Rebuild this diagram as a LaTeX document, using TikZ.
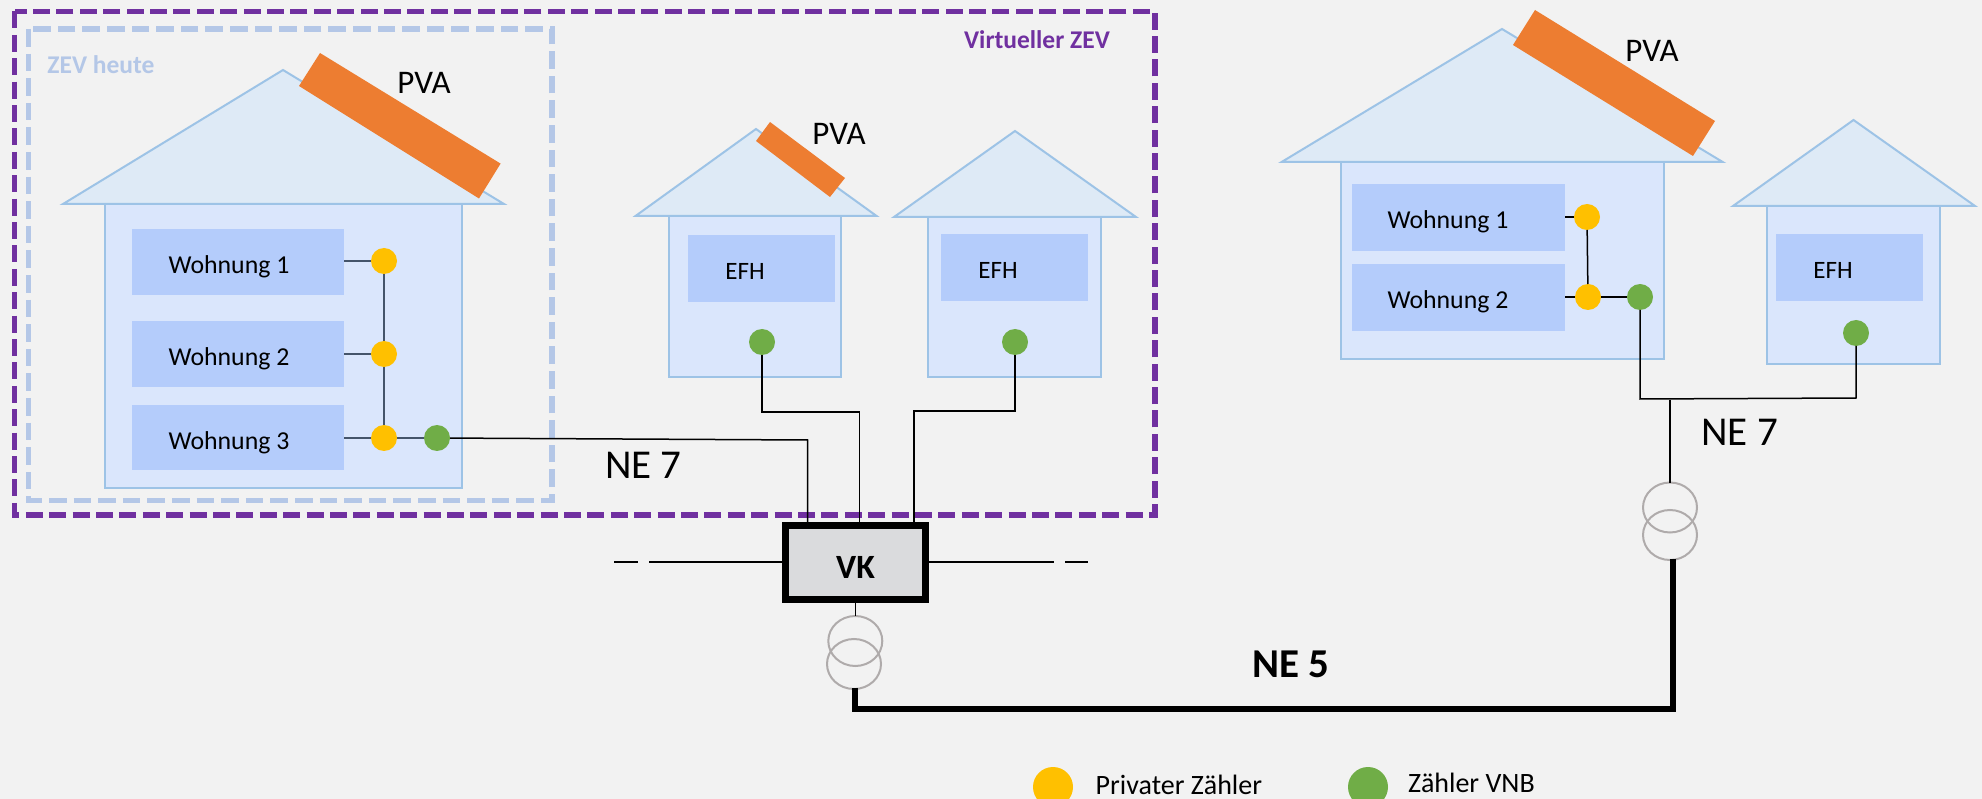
\documentclass[tikz,border=0pt]{standalone}
\usepackage{fontspec}
\setmainfont{Carlito}
\usetikzlibrary{calc,shapes.geometric}
\definecolor{bgc}{HTML}{F2F2F2}
\definecolor{roofc}{HTML}{DEEAF6}
\definecolor{edgec}{HTML}{9DC3E6}
\definecolor{bodyc}{HTML}{DAE6FC}
\definecolor{flatc}{HTML}{B4CCFB}
\definecolor{purplec}{HTML}{7030A0}
\definecolor{zevc}{HTML}{B4C7E7}
\definecolor{orangec}{HTML}{ED7D31}
\definecolor{yellowc}{HTML}{FFC000}
\definecolor{greenc}{HTML}{70AD47}
\definecolor{vkc}{HTML}{DADBDD}
\definecolor{trafoc}{HTML}{AFABAB}
\definecolor{wirec}{HTML}{44546A}
\newcommand{\fs}[1]{\fontsize{#1}{#1}\selectfont}
% \rectnode{style}{name}{x1}{y1}{x2}{y2}
\newcommand{\rectnode}[6]{\node[#1,minimum width={#5pt-#3pt},minimum height={#6pt-#4pt}] (#2) at ({(#3+#5)/2},{(#4+#6)/2}) {};}
\tikzset{
  x=1pt,y=-1pt,
  roof/.style={fill=roofc,draw=edgec,line width=2pt,line join=miter},
  body/.style={rectangle,fill=bodyc,draw=edgec,line width=2pt,inner sep=0pt,outer sep=0pt},
  flat/.style={rectangle,fill=flatc,inner sep=0pt,outer sep=0pt},
  panel/.style={fill=orangec},
  meter/.style={circle,minimum size=26pt,inner sep=0pt,outer sep=0pt},
  priv/.style={meter,fill=yellowc},
  vnb/.style={meter,fill=greenc},
  legenddot/.style={circle,minimum size=40pt,inner sep=0pt,outer sep=0pt},
  zone/.style={line width=5.5pt,line join=miter},
  wire/.style={draw=black,line width=1.5pt},
  riser/.style={draw=wirec,line width=1.5pt},
  heavy/.style={draw=black,line width=5.5pt,line join=miter},
  trafo/.style={draw=trafoc,line width=2pt,ellipse,minimum width=54pt,minimum height=50pt,inner sep=0pt,outer sep=0pt},
  txt/.style={inner sep=0pt,outer sep=0pt,text=black},
  pva/.style={txt,font=\fs{33}},
  flt/.style={txt,font=\fs{25.8}},
  efh/.style={txt,font=\fs{25}},
  ne/.style={txt,font=\fs{41}},
  leg/.style={txt,font=\fs{28}},
  zlabel/.style={inner sep=0pt,outer sep=0pt,font=\bfseries\fs{25.5}},
}
\begin{document}
\begin{tikzpicture}
\useasboundingbox (0,0) rectangle (1982,799);
\clip (0,0) rectangle (1982,799);
\fill[bgc] (0,0) rectangle (1982,799);

% zones
\draw[zone,draw=purplec,dash pattern=on 17pt off 6.4pt] (14.5,11.5) rectangle (1155,515);
\draw[zone,draw=zevc,dash pattern=on 17.6pt off 7pt] (28.7,29) rectangle (552,500.7);
\node[zlabel,text=zevc] (zevlabel) at (101,65) {ZEV heute};
\node[zlabel,text=purplec] (virtlabel) at (1037,39.5) {Virtueller ZEV};

% house 1
\draw[roof] (283,70) -- (504,204) -- (63,204) -- cycle;
\rectnode{body}{h1}{105}{204}{461.5}{488}
\fill[panel] (320,53) -- (500.6,163.6) -- (479,198.5) -- (299,86) -- cycle;
\node[pva] (pva1) at (424,83) {PVA};
\rectnode{flat}{w1}{132}{229}{344}{295}
\rectnode{flat}{w2}{132}{321}{344}{387}
\rectnode{flat}{w3}{132}{405}{344}{470}
\node[flt] (w1t) at (229,266.5) {Wohnung 1};
\node[flt] (w2t) at (229,358.5) {Wohnung 2};
\node[flt] (w3t) at (229,442.5) {Wohnung 3};
\node[priv] (p1) at (384,261) {};
\node[priv] (p2) at (384,354) {};
\node[priv] (p3) at (384,438) {};
\node[vnb] (g1) at (437,438) {};

% house 2
\draw[roof] (756,129) -- (876.6,216) -- (635.5,216) -- cycle;
\rectnode{body}{h2}{669}{216}{841}{377}
\fill[panel] (770,122) -- (845,178) -- (830,197) -- (756,141) -- cycle;
\node[pva] (pva2) at (839,134) {PVA};
\rectnode{flat}{e2}{688}{235}{835}{302}
\node[efh] (e2t) at (745,271) {EFH};
\node[vnb] (g2) at (762,342) {};

% house 3
\draw[roof] (1015,131) -- (1136,217) -- (894,217) -- cycle;
\rectnode{body}{h3}{928}{217}{1101}{377}
\rectnode{flat}{e3}{941}{234}{1088}{301}
\node[efh] (e3t) at (998,270) {EFH};
\node[vnb] (g3) at (1015,342) {};

% house 4
\draw[roof] (1502,29) -- (1722.7,162) -- (1281.6,162) -- cycle;
\rectnode{body}{h4}{1340.6}{162}{1664}{359}
\fill[panel] (1535,10) -- (1715,121) -- (1693,156) -- (1513,45) -- cycle;
\node[pva] (pva4) at (1652,51) {PVA};
\rectnode{flat}{w4}{1352}{184}{1565}{251}
\rectnode{flat}{w5}{1352}{264}{1565}{331}
\node[flt] (w4t) at (1448,221.5) {Wohnung 1};
\node[flt] (w5t) at (1448,301.5) {Wohnung 2};
\node[priv] (p4) at (1587,217) {};
\node[priv] (p5) at (1588,297) {};
\node[vnb] (g4) at (1640,297) {};

% house 5
\draw[roof] (1853.5,120) -- (1975,206) -- (1733,206) -- cycle;
\rectnode{body}{h5}{1767}{206}{1939.6}{364}
\rectnode{flat}{e5}{1776}{234}{1923}{301}
\node[efh] (e5t) at (1833,270) {EFH};
\node[vnb] (g5) at (1856,333) {};

% VK
\node[rectangle,fill=vkc,draw=black,line width=7pt,minimum width=140.5pt,minimum height=74pt,inner sep=0pt,outer sep=3.5pt] (vk) at (855.5,562.3) {};
\node[txt,font=\bfseries\fs{34}] (vkt) at (855.5,567) {VK};

% transformers
\node[trafo] (t1a) at (855.3,641) {};
\node[trafo] (t1b) at (854,664) {};
\node[trafo] (t2a) at (1670,507.5) {};
\node[trafo] (t2b) at (1670,535) {};

% coordinates
\coordinate (a1) at (807.7,440);
\coordinate (j2a) at (762,412);
\coordinate (j2b) at (859.4,412);
\coordinate (j3a) at (1015,411);
\coordinate (j3b) at (914,411);
\coordinate (vk1) at (807.7,522);
\coordinate (vk2) at (859.4,522);
\coordinate (vk3) at (914,522);
\coordinate (bl) at (855,709);
\coordinate (br) at (1673,709);
\coordinate (tr) at (1673,559);
\coordinate (bs) at (855,688);
\coordinate (ja) at (1640,399);
\coordinate (jb) at (1856,398);
\coordinate (jc) at (1670,400);
\coordinate (dl1) at (614.4,562);
\coordinate (dl2) at (638,562);
\coordinate (dl3) at (649,562);
\coordinate (dr1) at (1054,562);
\coordinate (dr2) at (1065,562);
\coordinate (dr3) at (1088,562);

% connectors house 1
\draw[riser] (w1.east |- p1) -- (p1);
\draw[riser] (w2.east |- p2) -- (p2);
\draw[riser] (w3.east |- p3) -- (p3);
\draw[riser] (p1) -- (p2);
\draw[riser] (p2) -- (p3);
\draw[riser] (p3) -- (g1);
\draw[wire] (g1) -- (a1) -- (vk1);
% connectors houses 2,3
\draw[wire] (g2) -- (j2a) -- (j2b) -- (vk2);
\draw[wire] (g3) -- (j3a) -- (j3b) -- (vk3);
% house 4,5
\draw[wire] (w4.east |- p4) -- (p4);
\draw[wire] (w5.east |- p5) -- (p5);
\draw[wire] (p4) -- (p5);
\draw[wire] (p5) -- (g4);
\draw[wire] (g4) -- (ja) -- (jb) -- (g5);
\draw[wire] (jc) -- (t2a);
% bus
\draw[wire] (dl1) -- (dl2);
\draw[wire] (dl3) -- (vk.west |- dl3);
\draw[wire] (vk.east |- dr1) -- (dr1);
\draw[wire] (dr2) -- (dr3);
\draw[wire] (vk.south -| t1a) -- (t1a);
% MV line
\draw[heavy] (bs) -- (bl) -- (br) -- (tr);

% labels
\node[ne] (ne7a) at (643.5,465) {NE 7};
\node[ne] (ne7b) at (1739.5,432) {NE 7};
\node[txt,font=\bfseries\fs{41}] (ne5) at (1291,664) {NE 5};

% legend
\node[legenddot,fill=yellowc] (lp) at (1053,787) {};
\node[legenddot,fill=greenc] (lg) at (1368,787) {};
\node[leg,anchor=west] (lpt) at (1095.7,785) {Privater Zähler};
\node[leg,anchor=west] (lgt) at (1408,783) {Zähler VNB};
\end{tikzpicture}
\end{document}
